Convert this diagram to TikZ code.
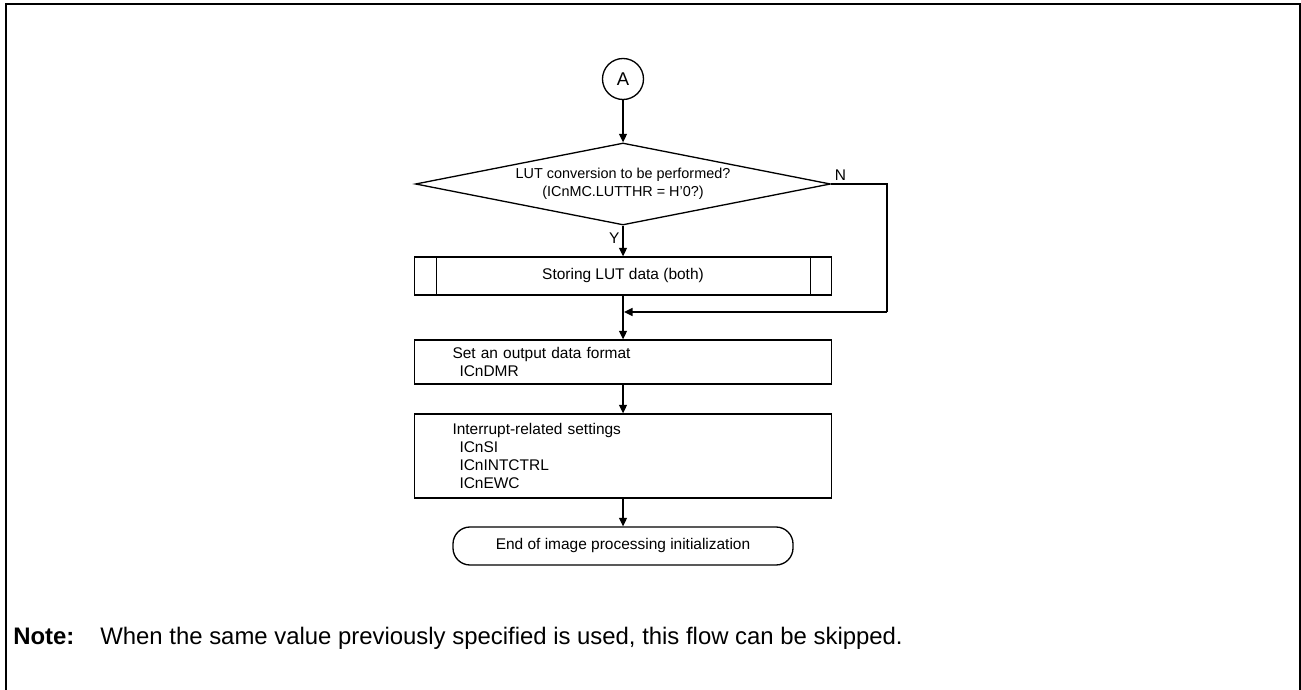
\documentclass[tikz,border=0pt]{standalone}
\usepackage{fontspec}
\setmainfont{Liberation Sans}
\usepackage{tikz}
\usetikzlibrary{arrows.meta,shapes.geometric,calc}

\begin{document}
\begin{tikzpicture}[x=0.2mm, y=-0.2mm,
    every node/.style={font=\fontsize{8.8}{10.2}\selectfont},
    conn/.style={draw, circle, minimum size=8.2mm, inner sep=0pt,
                 line width=0.75pt},
    decide/.style={draw, diamond, aspect=5.06, minimum width=83mm,
                   minimum height=16.4mm, inner sep=0pt, align=center,
                   font=\fontsize{8.2}{10.2}\selectfont, line width=0.75pt},
    subproc/.style={draw, rectangle, minimum width=83.4mm, minimum height=7.6mm,
                    inner sep=0pt, align=center, line width=0.75pt},
    procbox/.style={draw, rectangle, text width=68.2mm, inner xsep=7.6mm,
                    inner ysep=0pt, align=left, line width=0.75pt},
    term/.style={draw, rectangle, rounded corners=3.4mm, minimum width=68mm,
                 minimum height=7.6mm, inner sep=0pt, line width=0.75pt},
    note/.style={font=\fontsize{13.6}{16}\selectfont, anchor=base west,
                 inner sep=0pt},
    arr/.style={-{Triangle[length=1.7mm, width=1.6mm]}, line width=0.75pt}]
  \useasboundingbox (0,0) rectangle (1301,690);
  % frame, open at the bottom
  \draw[line width=1pt] (6,690) -- (6,4) -- (1300,4) -- (1300,690);

  \node[conn]    (conA) at (623,79)  {\fontsize{10.5}{12}\selectfont A};
  \node[decide]  (dec)  at (623,184) {LUT conversion to be performed?\\(ICnMC.LUTTHR = H'0?)};
  \node[subproc] (sub)  at (623,276) {Storing LUT data (both)};
  \node[procbox, minimum height=8.8mm] (fmt) at (623,362)
       {Set an output data format\\\hspace*{1.4mm}ICnDMR};
  \node[procbox, minimum height=16.8mm] (irq) at (623,456)
       {Interrupt-related settings\\\hspace*{1.4mm}ICnSI\\\hspace*{1.4mm}ICnINTCTRL\\\hspace*{1.4mm}ICnEWC};
  \node[term]    (fin)  at (623,546) {End of image processing initialization};

  \draw ([xshift=4.6mm]sub.north west) -- ([xshift=4.6mm]sub.south west);
  \draw ([xshift=-4.4mm]sub.north east) -- ([xshift=-4.4mm]sub.south east);

  \coordinate (nright) at (887,312);
  \coordinate (merge)  at (624,312);

  \draw[arr] (conA) -- (dec);
  \draw[arr] (dec.south) -- node[pos=0.4, left=0.6mm, inner sep=0pt] {Y} (sub.north);
  \draw[line width=0.75pt] (dec.east)
       node[anchor=south west, xshift=0.6mm, yshift=0.5mm, inner sep=0pt] (nlbl) {N}
       -| (nright);
  \draw[arr] (nright) -- (merge);
  \draw[arr] (sub) -- (fmt);
  \draw[arr] (fmt) -- (irq);
  \draw[arr] (irq) -- (fin);

  \node[note] (notelbl) at (13,644) {\bfseries Note:};
  \node[note] (notetxt) at (100,644) {When the same value previously specified is used, this flow can be skipped.};
\end{tikzpicture}
\end{document}
